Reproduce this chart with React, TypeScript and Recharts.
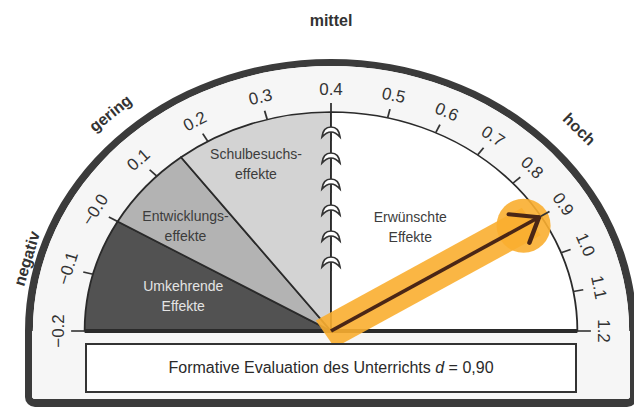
import React from "react"
import { PieChart, Pie, Cell } from "recharts"

// scale of the barometer (effect size d)
const TICKS = [-0.2, -0.1, 0, 0.1, 0.2, 0.3, 0.4, 0.5, 0.6, 0.7, 0.8, 0.9, 1.0, 1.1, 1.2]
const TICK_LABELS = ["−0.2", "−0.1", "−0.0", "0.1", "0.2", "0.3", "0.4", "0.5", "0.6", "0.7", "0.8", "0.9", "1.0", "1.1", "1.2"]

// zones inside the dial
const ZONE_EDGES = [-0.2, 0.0, 0.15, 0.4, 1.2]
const ZONE_NAMES = [
  ["Umkehrende", "Effekte"],
  ["Entwicklungs-", "effekte"],
  ["Schulbesuchs-", "effekte"],
  ["Erwünschte", "Effekte"],
]
const ZONE_COLORS = ["#525252", "#b3b3b3", "#d3d3d3", "#ffffff"]
const ZONE_TEXT = ["#e4e4e4", "#3c3c3c", "#3c3c3c", "#3c3c3c"]

// words round the outside
const CATEGORIES = ["negativ", "gering", "mittel", "hoch"]
const CATEGORY_AT = [-0.1, 0.12, 0.4, 0.8]

const EFFECT_NAME = "Formative Evaluation des Unterrichts"
const EFFECT_D = 0.9
const EFFECT_TEXT = "0,90"

// layout
const W = 634
const H = 409
const CX = 331
const CY = 331
const SX = 1.125 // the dial is a bit wider than high
const R_SCALE = 219
const R_RIM = 272
const RIM_W = 7
const R_TICKTEXT = 242
const CATEGORY_R = [280, 293, 311, 299]
const ZONE_LABEL_POS = [
  { r: 136, da: 0 },
  { r: 167, da: 2 },
  { r: 180, da: 3 },
  { r: 126, da: 11 },
]
const FONT = "'Liberation Sans', Arial, sans-serif"
const INK = "#333333"
const ORANGE = "#f9ae30"

const RAD = Math.PI / 180

// 0.4 sits at the top; the left half is even, the right half is a little
// wider near 0.4 (as printed)
const toAngle = (e: number) =>
  e <= 0.4
    ? 90 + ((0.4 - e) / 0.6) * 90
    : 90 * (1 - Math.pow((e - 0.4) / 0.8, 0.92))

const polar = (cx: number, cy: number, r: number, a: number) => ({
  x: cx + r * Math.cos(a * RAD),
  y: cy - r * Math.sin(a * RAD),
})

// text direction along the (stretched) arc
const arcRot = (a: number) => Math.atan2(Math.cos(a * RAD), SX * Math.sin(a * RAD)) / RAD

function Txt({ x, y, rot = 0, children, ...rest }: any) {
  return (
    <text
      transform={`translate(${x},${y}) scale(${1 / SX},1) rotate(${rot})`}
      textAnchor="middle"
      dominantBaseline="central"
      fontFamily={FONT}
      {...rest}
    >
      {children}
    </text>
  )
}

const zoneData = ZONE_NAMES.map((n, i) => ({
  name: n.join(" "),
  value: toAngle(ZONE_EDGES[i]) - toAngle(ZONE_EDGES[i + 1]),
}))

const tickData = TICKS.slice(0, -1).map((t, i) => ({
  name: TICK_LABELS[i],
  value: toAngle(t) - toAngle(TICKS[i + 1]),
}))

const needleAngle = toAngle(EFFECT_D)

function renderRimLabel(p: any) {
  const { cx, cy } = p
  return (
    <g>
      {CATEGORIES.map((c, i) => {
        const a = toAngle(CATEGORY_AT[i])
        const pt = polar(cx, cy, CATEGORY_R[i], a)
        return (
          <Txt key={c} x={pt.x} y={pt.y} rot={arcRot(a)} fontSize={16} fontWeight="bold" fill={INK}>
            {c}
          </Txt>
        )
      })}
    </g>
  )
}

function Hinge({ x, y }: { x: number; y: number }) {
  return (
    <g transform={`translate(${x},${y})`}>
      <path d="M -8 4 Q -7 -6 0 -6 Q 7 -6 8 4 Q 4 -1 0 -1 Q -4 -1 -8 4 Z" fill="#fff" stroke={INK} strokeWidth={1.6} />
      <line x1={0} y1={-1} x2={0} y2={8} stroke={INK} strokeWidth={1.6} />
    </g>
  )
}

function renderZoneLabel(p: any) {
  const { cx, cy, midAngle, index, outerRadius } = p
  const pos = ZONE_LABEL_POS[index]
  const pt = polar(cx, cy, pos.r, midAngle + pos.da)
  const lines = ZONE_NAMES[index]
  return (
    <g>
      {index === 0 && (
        <line x1={cx - outerRadius} y1={cy} x2={cx + outerRadius} y2={cy} stroke="#2a2a2a" strokeWidth={4} />
      )}
      {index === 3 &&
        Array.from({ length: 6 }, (_, k) => <Hinge key={k} x={cx} y={cy - 68 - 26 * k} />)}
      <Txt x={pt.x} y={pt.y} fontSize={14} fill={ZONE_TEXT[index]}>
        <tspan x={0} dy="-0.7em">{lines[0]}</tspan>
        <tspan x={0} dy="1.45em">{lines[1]}</tspan>
      </Txt>
    </g>
  )
}

function tickAt(cx: number, cy: number, a: number, label: string, end: boolean) {
  const p0 = polar(cx, cy, R_SCALE, a)
  const p1 = polar(cx, cy, R_SCALE + (end ? 12 : 9), a)
  const t = polar(cx, cy, R_TICKTEXT, a)
  return (
    <g key={label}>
      <line x1={p0.x} y1={p0.y} x2={p1.x} y2={p1.y} stroke={INK} strokeWidth={1.6} />
      <Txt x={t.x} y={t.y} rot={arcRot(a)} fontSize={17} fill={INK}>
        {label}
      </Txt>
    </g>
  )
}

function renderTickLabel(p: any) {
  const { cx, cy, startAngle, endAngle, index } = p
  const last = index === tickData.length - 1
  return (
    <g>
      {tickAt(cx, cy, startAngle, TICK_LABELS[index], index === 0)}
      {last && tickAt(cx, cy, endAngle, TICK_LABELS[index + 1], true)}
    </g>
  )
}

function renderNeedle(p: any) {
  const { cx, cy, midAngle } = p
  const a = midAngle
  const tip = polar(cx, cy, R_SCALE - 2, a)
  const back = polar(cx, cy, -6, a)
  const glowEnd = polar(cx, cy, R_SCALE - 10, a)
  const blob = polar(cx, cy, R_SCALE - 18, a)
  const arm1 = polar(tip.x, tip.y, 27, a + 180 - 38)
  const arm2 = polar(tip.x, tip.y, 27, a + 180 + 40)
  return (
    <g>
      <line x1={back.x} y1={back.y} x2={glowEnd.x} y2={glowEnd.y} stroke={ORANGE} strokeOpacity={0.9} strokeWidth={32} />
      <ellipse cx={blob.x} cy={blob.y} rx={24} ry={27} fill={ORANGE} fillOpacity={0.9} />
      <line x1={cx} y1={cy} x2={tip.x} y2={tip.y} stroke="#4a2616" strokeWidth={3.5} />
      <line x1={tip.x} y1={tip.y} x2={arm1.x} y2={arm1.y} stroke="#4a2616" strokeWidth={4} strokeLinecap="round" />
      <line x1={tip.x} y1={tip.y} x2={arm2.x} y2={arm2.y} stroke="#4a2616" strokeWidth={4} strokeLinecap="round" />
    </g>
  )
}

export default function App() {
  const rimLeft = CX - R_RIM * SX
  const boxLeft = CX - R_SCALE * SX
  return (
    <div
      style={{
        position: "absolute",
        left: 0,
        top: 0,
        width: W,
        height: H,
        background: "#fff",
        overflow: "hidden",
        fontFamily: FONT,
      }}
    >
      {/* lower part of the frame */}
      <div
        style={{
          position: "absolute",
          left: rimLeft,
          top: CY - 1,
          width: R_RIM * SX * 2,
          height: H - CY - 1,
          boxSizing: "border-box",
          borderLeft: `${RIM_W * SX}px solid #3b3b3b`,
          borderRight: `${RIM_W * SX}px solid #3b3b3b`,
          borderBottom: "8px solid #3b3b3b",
          borderBottomLeftRadius: 10,
          borderBottomRightRadius: 10,
          background: "#f6f6f6",
        }}
      />
      <div
        style={{
          position: "absolute",
          left: 0,
          top: 0,
          width: W,
          height: H,
          transform: `scaleX(${SX})`,
          transformOrigin: `${CX}px 0px`,
        }}
      >
        <PieChart width={W} height={H} margin={{ top: 0, right: 0, bottom: 0, left: 0 }}>
          <Pie
            data={[{ name: "rim", value: 1 }]}
            dataKey="value"
            cx={CX}
            cy={CY}
            startAngle={180}
            endAngle={0}
            innerRadius={R_RIM - RIM_W}
            outerRadius={R_RIM}
            fill="#3b3b3b"
            stroke="none"
            label={renderRimLabel}
            labelLine={false}
            isAnimationActive={false}
          />
          <Pie
            data={[{ name: "band", value: 1 }]}
            dataKey="value"
            cx={CX}
            cy={CY}
            startAngle={180}
            endAngle={0}
            innerRadius={0}
            outerRadius={R_RIM - RIM_W}
            fill="#f6f6f6"
            stroke="none"
            isAnimationActive={false}
          />
          <Pie
            data={zoneData}
            dataKey="value"
            cx={CX}
            cy={CY}
            startAngle={180}
            endAngle={0}
            innerRadius={0}
            outerRadius={R_SCALE}
            stroke="#2a2a2a"
            strokeWidth={1.6}
            label={renderZoneLabel}
            labelLine={false}
            isAnimationActive={false}
          >
            {zoneData.map((z, i) => (
              <Cell key={z.name} fill={ZONE_COLORS[i]} />
            ))}
          </Pie>
          <Pie
            data={[{ name: EFFECT_NAME, value: EFFECT_D }]}
            dataKey="value"
            cx={CX}
            cy={CY}
            startAngle={needleAngle + 0.5}
            endAngle={needleAngle - 0.5}
            innerRadius={0}
            outerRadius={R_SCALE}
            fill="none"
            stroke="none"
            label={renderNeedle}
            labelLine={false}
            isAnimationActive={false}
          />
          <Pie
            data={tickData}
            dataKey="value"
            cx={CX}
            cy={CY}
            startAngle={180}
            endAngle={0}
            innerRadius={R_SCALE}
            outerRadius={R_SCALE + 1}
            fill="none"
            stroke="none"
            label={renderTickLabel}
            labelLine={false}
            isAnimationActive={false}
          />
        </PieChart>
      </div>
      {/* caption box */}
      <div
        style={{
          position: "absolute",
          left: boxLeft,
          top: 343,
          width: R_SCALE * SX * 2,
          height: 50,
          boxSizing: "border-box",
          border: "2.5px solid #333",
          background: "#fff",
          display: "flex",
          alignItems: "center",
          justifyContent: "center",
          fontSize: 16,
          color: "#2a2a2a",
        }}
      >
        <span>
          {EFFECT_NAME} <i>d</i> = {EFFECT_TEXT}
        </span>
      </div>
    </div>
  )
}
